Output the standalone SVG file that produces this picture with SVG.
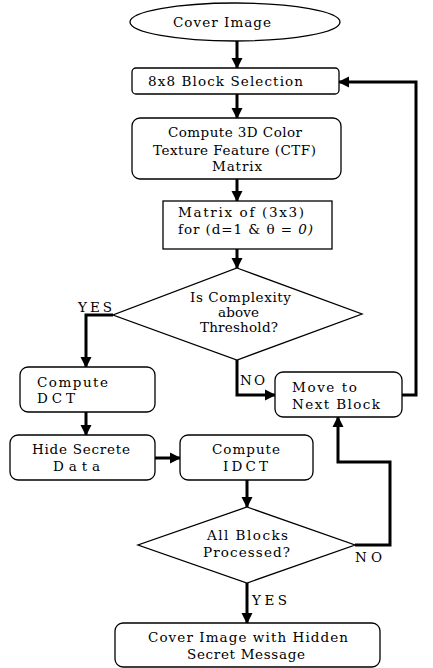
<svg xmlns="http://www.w3.org/2000/svg" width="433" height="668" viewBox="0 0 433 668">
<style>
.n{fill:#fff;stroke:#000;stroke-width:1.3}
.c{fill:none;stroke:#000;stroke-width:3}
.t{font-family:"DejaVu Serif","Liberation Serif",serif;font-size:13.5px;fill:#000}
</style>
<defs>
<marker id="ah" markerUnits="userSpaceOnUse" markerWidth="12" markerHeight="12" refX="10" refY="5.5" orient="auto" viewBox="0 0 12 11">
<path d="M0,0 L11,5.5 L0,11 Z" fill="#000"/>
</marker>
</defs>
<rect width="433" height="668" fill="#fff"/>
<g id="connectors">
<path class="c" d="M237,41 V68" marker-end="url(#ah)"/>
<path class="c" d="M237,94 V118" marker-end="url(#ah)"/>
<path class="c" d="M237,179 V201" marker-end="url(#ah)"/>
<path class="c" d="M237,249 V268" marker-end="url(#ah)"/>
<path class="c" d="M113,315 H86 V367" marker-end="url(#ah)"/>
<path class="c" d="M237,360 V395 H275" marker-end="url(#ah)"/>
<path class="c" d="M402,395 H416 V82 H339" marker-end="url(#ah)"/>
<path class="c" d="M86,412 V435" marker-end="url(#ah)"/>
<path class="c" d="M155,458 H180" marker-end="url(#ah)"/>
<path class="c" d="M247,480 V507" marker-end="url(#ah)"/>
<path class="c" d="M355,545 H390 V462 H338 V417" marker-end="url(#ah)"/>
<path class="c" d="M247,583 V623" marker-end="url(#ah)"/>
<text class="t" x="78" y="312" textLength="34">YES</text>
<text class="t" x="240" y="385" textLength="25">NO</text>
<text class="t" x="355" y="562" textLength="27">NO</text>
<text class="t" x="252" y="605" textLength="35">YES</text>
</g>
<g id="cover">
<ellipse class="n" cx="235" cy="22" rx="105" ry="19"/>
<text class="t" x="173" y="27" textLength="98">Cover Image</text>
</g>
<g id="block">
<rect class="n" x="132" y="68" width="207" height="26" rx="4"/>
<text class="t" x="148" y="86" textLength="155">8x8 Block Selection</text>
</g>
<g id="ctf">
<rect class="n" x="132" y="118" width="209" height="61" rx="8"/>
<text class="t" x="168" y="137" textLength="134">Compute 3D Color</text>
<text class="t" x="153" y="155" textLength="163">Texture Feature (CTF)</text>
<text class="t" x="212" y="171" textLength="50">Matrix</text>
</g>
<g id="matrix">
<rect class="n" x="163" y="201" width="169" height="48"/>
<text class="t" x="178" y="217" textLength="126">Matrix of (3x3)</text>
<text class="t" x="178" y="234" textLength="135">for (d=1 &amp; θ = <tspan font-style="italic">0)</tspan></text>
</g>
<g id="complexity">
<polygon class="n" points="237,268 362,314 237,360 113,315"/>
<text class="t" x="190" y="302" textLength="101">Is Complexity</text>
<text class="t" x="218" y="317" textLength="41">above</text>
<text class="t" x="200" y="332" textLength="78">Threshold?</text>
</g>
<g id="dct">
<rect class="n" x="20" y="367" width="135" height="45" rx="8"/>
<text class="t" x="37" y="387" textLength="71">Compute</text>
<text class="t" x="37" y="403" textLength="38">DCT</text>
</g>
<g id="next">
<rect class="n" x="275" y="372" width="127" height="45" rx="8"/>
<text class="t" x="292" y="392" textLength="65">Move to</text>
<text class="t" x="292" y="409" textLength="88">Next Block</text>
</g>
<g id="hide">
<rect class="n" x="10" y="435" width="145" height="45" rx="8"/>
<text class="t" x="32" y="454" textLength="98">Hide Secrete</text>
<text class="t" x="53" y="471" textLength="47">Data</text>
</g>
<g id="idct">
<rect class="n" x="180" y="435" width="133" height="45" rx="8"/>
<text class="t" x="212" y="454" textLength="68">Compute</text>
<text class="t" x="223" y="471" textLength="45">IDCT</text>
</g>
<g id="allblocks">
<polygon class="n" points="247,507 355,545 247,583 138,545"/>
<text class="t" x="207" y="540" textLength="81">All Blocks</text>
<text class="t" x="203" y="557" textLength="87">Processed?</text>
</g>
<g id="result">
<rect class="n" x="115" y="623" width="265" height="44" rx="8"/>
<text class="t" x="148" y="642" textLength="200">Cover Image with Hidden</text>
<text class="t" x="187" y="659" textLength="118">Secret Message</text>
</g>
</svg>
